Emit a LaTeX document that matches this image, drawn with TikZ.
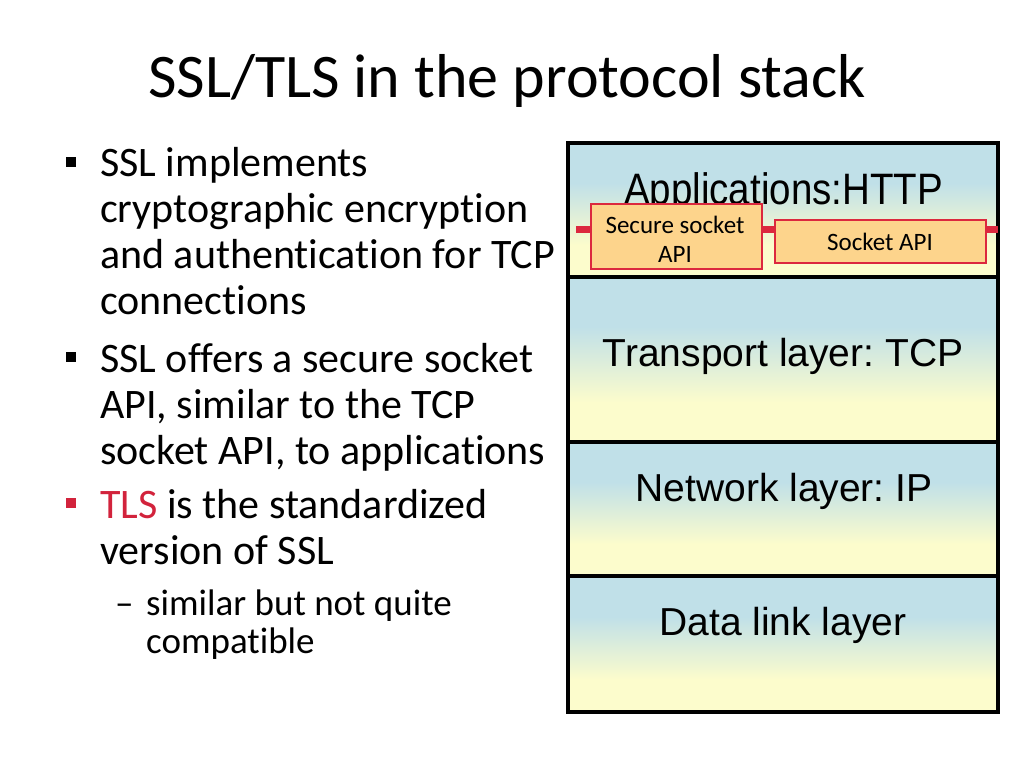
\documentclass[tikz,border=0pt]{standalone}
\usepackage{fontspec}
\usepackage{graphicx}
\setmainfont{Carlito}[Ligatures={NoCommon}]
\newfontfamily\arialf{Liberation Sans}
\definecolor{lblue}{RGB}{192,224,232}
\definecolor{lyel}{RGB}{252,252,204}
\definecolor{apired}{RGB}{220,40,62}
\definecolor{apifill}{RGB}{253,212,140}
\definecolor{tlsred}{RGB}{210,35,60}
\pgfdeclareverticalshading{layershade}{100bp}{color(0bp)=(lyel); color(37bp)=(lyel); color(60bp)=(lblue); color(100bp)=(lblue)}
\frenchspacing
\begin{document}
\begin{tikzpicture}[x=1pt,y=-1pt,
  body/.style={inner sep=0pt, anchor=base west, font=\fontsize{42}{46}\selectfont},
  subbody/.style={inner sep=0pt, anchor=base west, font=\fontsize{37}{38}\selectfont},
  titletext/.style={inner sep=0pt, anchor=base west, font=\fontsize{62}{70}\selectfont},
  bulletsq/.style={fill=black},
  layer/.style={draw=black, line width=3.5pt, shading=layershade, inner sep=0pt, minimum width=430pt},
  laytxt/.style={inner sep=0pt, anchor=base, font=\arialf\fontsize{39}{44}\selectfont},
  apibox/.style={draw=apired, fill=apifill, line width=2.5pt, inner sep=0pt},
  apitxt/.style={inner sep=0pt, anchor=base, font=\fontsize{25}{29}\selectfont},
  redbar/.style={draw=apired, line width=7pt}]
\useasboundingbox (0,0) rectangle (1024,768);
\fill[white] (0,0) rectangle (1024,768);

% title
\node[titletext] (title) at (148,97) {SSL/TLS in the protocol stack};

% bullets
\fill[bulletsq] (66,156.5) rectangle (76,166.5);
\node[body] (l1) at (100,176) {SSL implements};
\node[body] (l2) at (100,222) {cryptographic encryption};
\node[body] (l3) at (100,268) {and authentication for TCP};
\node[body] (l4) at (100,314) {connections};
\fill[bulletsq] (66,351.5) rectangle (76,361.5);
\node[body] (l5) at (100,372) {SSL offers a secure socket};
\node[body] (l6) at (100,418) {API, similar to the TCP};
\node[body] (l7) at (100,464) {socket API, to applications};
\fill[bulletsq, fill=tlsred] (66,497.5) rectangle (76,507.5);
\node[body] (l8) at (100,518) {\textcolor{tlsred}{TLS} is the standardized};
\node[body] (l9) at (100,564) {version of SSL};
\node[subbody] (d1) at (115,615) {–};
\node[subbody] (l10) at (146,615) {similar but not quite};
\node[subbody] (l11) at (146,653) {compatible};

% protocol stack
\node[layer, minimum height=134pt] (app) at (783,210) {};
\node[layer, minimum height=165pt] (tcp) at (783,359.5) {};
\node[layer, minimum height=134pt] (ip) at (783,509) {};
\node[layer, minimum height=136pt] (dl) at (783,644) {};

\node[laytxt] (applbl) at (783.5,204) {\scalebox{0.875}[1]{\fontsize{44}{48}\selectfont Applications:HTTP}};
\node[laytxt] (tcplbl) at (783,366) {Transport layer: TCP};
\node[laytxt] (iplbl) at (784,501) {Network layer: IP};
\node[laytxt] (dllbl) at (783,635) {Data link layer};

% socket API bar
\coordinate (barL) at (576,229.5);
\coordinate (barR) at (998,229.5);
\draw[redbar] (barL) -- (barR);
\node[apibox, minimum width=171pt, minimum height=65pt] (sapi) at (676.5,236.5) {};
\node[apitxt] (sapi1) at (675,233) {Secure socket};
\node[apitxt] (sapi2) at (675,262) {API};
\node[apibox, minimum width=211pt, minimum height=43pt] (api) at (880.5,241.5) {};
\node[apitxt] (api1) at (880,250) {Socket API};
\end{tikzpicture}
\end{document}
